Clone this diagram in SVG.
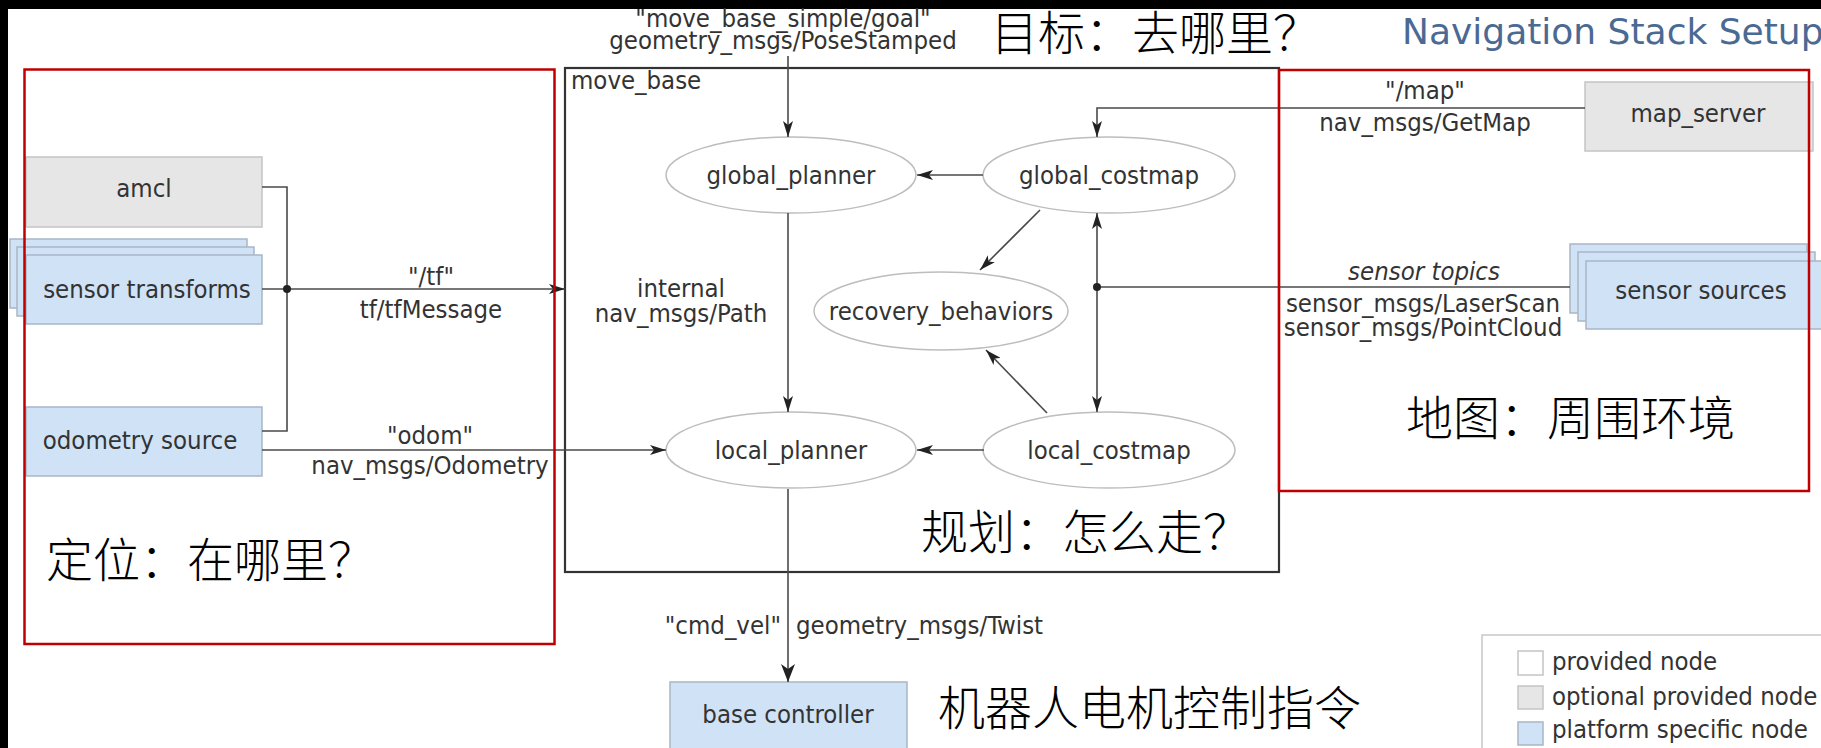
<svg xmlns="http://www.w3.org/2000/svg" width="1821" height="748" viewBox="0 0 1821 748">
  <defs>
    <style>
      text { font-family: "DejaVu Sans Condensed", "DejaVu Sans", "Liberation Sans", sans-serif; font-size: 25.5px; fill: #333; }
      .c { text-anchor: middle; }
      .e { text-anchor: end; }
      .it { font-style: italic; }
      .cjk { font-family: "Noto Sans CJK SC", sans-serif; font-weight: 300; font-size: 47px; fill: #000; }
      .title { font-family: "DejaVu Sans", sans-serif; font-size: 36px; fill: #4a6a94; }
      .grey { fill: #e6e6e6; stroke: #c4c4c4; stroke-width: 1.5; }
      .blue { fill: #d0e2f6; stroke: #a9b6c6; stroke-width: 1.5; }
      .white { fill: #fff; stroke: #c4c4c4; stroke-width: 1.5; }
      .ell { fill: #fff; stroke: #bdbdbd; stroke-width: 1.5; }
      .wire { fill: none; stroke: #4a4a4a; stroke-width: 1.6; }
      .arrow { marker-end: url(#ah); }
      .region { fill: none; stroke: #c00000; stroke-width: 2.5; }
      .frame { fill: none; stroke: #333; stroke-width: 2.2; }
    </style>
    <marker id="ah" markerUnits="userSpaceOnUse" viewBox="0 0 16 10" refX="16" refY="5" markerWidth="16" markerHeight="10" orient="auto">
      <path d="M0,0 L16,5 L0,10 L4,5 z" fill="#222"/>
    </marker>
    <marker id="ahBig" markerUnits="userSpaceOnUse" viewBox="0 0 18 14" refX="18" refY="7" markerWidth="18" markerHeight="14" orient="auto">
      <path d="M0,0 L18,7 L0,14 L5,7 z" fill="#222"/>
    </marker>
  </defs>

  <!-- page -->
  <rect width="1821" height="748" fill="#000"/>
  <rect x="8" y="9" width="1813" height="739" fill="#fff"/>

  <!-- title -->
  <text class="title" x="1402" y="44">Navigation Stack Setup</text>

  <!-- move_base container -->
  <g id="move_base">
    <rect class="frame" x="565" y="68" width="714" height="504"/>
    <text x="571" y="89">move_base</text>
  </g>

  <!-- external nodes -->
  <g id="amcl">
    <rect class="grey" x="26" y="157" width="236" height="70"/>
    <text class="c" x="144" y="197">amcl</text>
  </g>
  <g id="sensor_transforms">
    <rect class="blue" x="10" y="239" width="237" height="69"/>
    <rect class="blue" x="17" y="247" width="237" height="69"/>
    <rect class="blue" x="26" y="255" width="236" height="69"/>
    <text class="c" x="147" y="298">sensor transforms</text>
  </g>
  <g id="odometry_source">
    <rect class="blue" x="26" y="407" width="236" height="69"/>
    <text class="c" x="140" y="449">odometry source</text>
  </g>
  <g id="map_server">
    <rect class="grey" x="1585" y="82" width="228" height="69"/>
    <text class="c" x="1698" y="122">map_server</text>
  </g>
  <g id="sensor_sources">
    <rect class="blue" x="1570" y="244" width="237" height="69"/>
    <rect class="blue" x="1578" y="252" width="237" height="69"/>
    <rect class="blue" x="1586" y="261" width="245" height="68"/>
    <text class="c" x="1701" y="299">sensor sources</text>
  </g>
  <g id="base_controller">
    <rect class="blue" x="670" y="682" width="237" height="80"/>
    <text class="c" x="788" y="723">base controller</text>
  </g>

  <!-- internal move_base nodes -->
  <g id="global_planner">
    <ellipse class="ell" cx="791" cy="175" rx="125" ry="38"/>
    <text class="c" x="791" y="184">global_planner</text>
  </g>
  <g id="global_costmap">
    <ellipse class="ell" cx="1109" cy="175" rx="126" ry="38"/>
    <text class="c" x="1109" y="184">global_costmap</text>
  </g>
  <g id="recovery_behaviors">
    <ellipse class="ell" cx="941" cy="311" rx="127" ry="39"/>
    <text class="c" x="941" y="320">recovery_behaviors</text>
  </g>
  <g id="local_planner">
    <ellipse class="ell" cx="791" cy="450" rx="125" ry="38"/>
    <text class="c" x="791" y="459">local_planner</text>
  </g>
  <g id="local_costmap">
    <ellipse class="ell" cx="1109" cy="450" rx="126" ry="38"/>
    <text class="c" x="1109" y="459">local_costmap</text>
  </g>

  <!-- connectors -->
  <g id="connectors">
    <polyline class="wire" points="262,187 287,187 287,431 262,431"/>
    <path class="wire arrow" d="M262,289 H565"/>
    <circle cx="287" cy="289" r="4" fill="#222"/>
    <path class="wire arrow" d="M262,450 H666"/>
    <path class="wire arrow" d="M788,56 V137"/>
    <path class="wire arrow" d="M983,175 H917"/>
    <path class="wire arrow" d="M1040,210 L980,270"/>
    <path class="wire arrow" d="M1047,413 L986,350"/>
    <path class="wire arrow" d="M984,450 H917"/>
    <path class="wire arrow" d="M788,213 V412"/>
    <path class="wire arrow" d="M1097,287 V213"/>
    <path class="wire arrow" d="M1097,287 V412"/>
    <path class="wire" d="M1097,287 H1570"/>
    <circle cx="1097" cy="287" r="4" fill="#222"/>
    <path class="wire arrow" d="M1585,108 H1097 V137"/>
    <path class="wire" d="M788,489 V682" marker-end="url(#ahBig)"/>
  </g>

  <!-- connector labels -->
  <g id="labels">
    <text class="c" x="783" y="27">"move_base_simple/goal"</text>
    <text class="c" x="783" y="49">geometry_msgs/PoseStamped</text>
    <text class="c" x="431" y="285">"/tf"</text>
    <text class="c" x="431" y="318">tf/tfMessage</text>
    <text class="c" x="430" y="444">"odom"</text>
    <text class="c" x="430" y="474">nav_msgs/Odometry</text>
    <text class="c" x="681" y="297">internal</text>
    <text class="c" x="681" y="322">nav_msgs/Path</text>
    <text class="c" x="1425" y="99">"/map"</text>
    <text class="c" x="1425" y="131">nav_msgs/GetMap</text>
    <text class="c it" x="1424" y="280">sensor topics</text>
    <text class="c" x="1423" y="312">sensor_msgs/LaserScan</text>
    <text class="c" x="1423" y="336">sensor_msgs/PointCloud</text>
    <text class="e" x="781" y="634">"cmd_vel"</text>
    <text x="796" y="634">geometry_msgs/Twist</text>
  </g>

  <!-- highlighted regions -->
  <rect class="region" x="24.5" y="69.5" width="530" height="574.5"/>
  <rect class="region" x="1279" y="70" width="530" height="421"/>

  <!-- annotations -->
  <text class="cjk" x="991" y="50">目标：去哪里？</text>
  <text class="cjk" x="46" y="577">定位：在哪里？</text>
  <text class="cjk" x="921" y="549">规划：怎么走？</text>
  <text class="cjk" x="1406" y="435">地图：周围环境</text>
  <text class="cjk" x="938" y="725">机器人电机控制指令</text>

  <!-- legend -->
  <g id="legend">
    <rect x="1482" y="635" width="360" height="130" fill="#fff" stroke="#c8c8c8" stroke-width="1.5"/>
    <rect class="white" x="1518" y="651" width="25" height="24"/>
    <rect class="grey" x="1518" y="686" width="25" height="23"/>
    <rect class="blue" x="1518" y="722" width="25" height="23"/>
    <text x="1552" y="670">provided node</text>
    <text x="1552" y="705">optional provided node</text>
    <text x="1552" y="738">platform specific node</text>
  </g>
</svg>
